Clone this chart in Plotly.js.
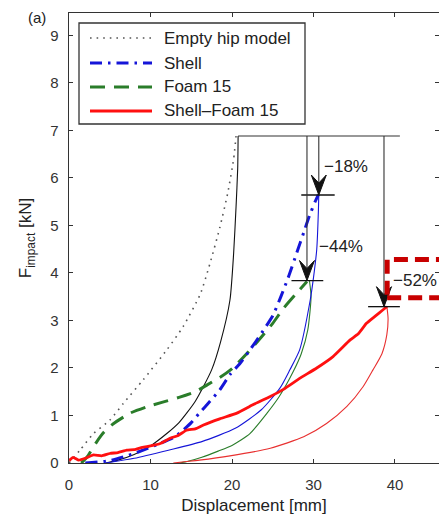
<!DOCTYPE html>
<html>
<head>
<meta charset="utf-8">
<script src="https://cdn.plot.ly/plotly-3.0.1.min.js"></script>
<style>html,body{margin:0;padding:0;overflow:hidden;background:#fff}</style>
</head>
<body>
<div id="chart" style="width:439px;height:516px"></div>
<script>
// ---- Data ----
const seriesNames = ["Empty hip model", "Shell", "Foam 15", "Shell\u2013Foam 15"];

// Empty hip model: loading (dotted) and unloading (thin solid)
const emptyLoadX = [0, 1.35, 3, 5, 6.7, 9.1, 12, 14, 16.1, 17.3, 18.5, 19.5, 20.2, 20.5];
const emptyLoadY = [0, 0.27, 0.62, 0.9, 1.26, 1.75, 2.38, 2.87, 3.55, 4.2, 4.95, 5.7, 6.4, 6.88];
const emptyUnloadX = [20.75, 20.7, 20.5, 20.2, 19.75, 18.6, 17.5, 15.5, 13.5, 12, 10, 8, 6, 4.5];
const emptyUnloadY = [6.88, 6.2, 5.4, 4.41, 3.43, 2.55, 1.96, 1.3, 0.85, 0.62, 0.36, 0.18, 0.06, 0];

// Shell: loading (dash-dot) and unloading (thin solid)
const shellLoadX = [2, 5, 8, 11, 13, 14, 15, 16, 16.9, 18.5, 19.75, 21, 22.2, 23.5, 25, 26, 27, 28, 28.8, 29.5, 30.2, 30.6];
const shellLoadY = [0, 0.05, 0.2, 0.4, 0.55, 0.69, 0.85, 1.05, 1.22, 1.54, 1.86, 2.1, 2.38, 2.7, 3.1, 3.5, 3.95, 4.45, 4.85, 5.2, 5.5, 5.65];
const shellUnloadX = [30.65, 30.6, 30.4, 30.0, 29.6, 28.3, 27.1, 25.9, 23.6, 20.4, 16.3, 12.2, 8, 4.5];
const shellUnloadY = [5.65, 5.3, 4.5, 3.9, 3.43, 2.38, 1.96, 1.58, 1.12, 0.73, 0.45, 0.27, 0.1, 0];

// Foam 15: loading (dashed) and unloading (thin solid)
const foamLoadX = [1.5, 2.2, 3.3, 4.3, 5.4, 7.5, 9.5, 11.5, 13.5, 15.5, 17, 18.5, 20.1, 22.6, 25, 26.3, 27.8, 29.2];
const foamLoadY = [0, 0.12, 0.42, 0.65, 0.82, 1.05, 1.18, 1.28, 1.38, 1.5, 1.65, 1.8, 2.0, 2.45, 2.94, 3.25, 3.55, 3.82];
const foamUnloadX = [29.5, 29.7, 29.3, 28.5, 27.5, 25.8, 24.3, 22.2, 20, 18.3, 16.3, 14.5, 13.5];
const foamUnloadY = [3.84, 3.5, 2.8, 2.3, 1.92, 1.4, 1.05, 0.62, 0.37, 0.25, 0.12, 0.03, 0];

// Shell-Foam 15: loading (thick solid) and unloading (thin solid)
const sfLoadX = [0, 0.5, 1.2, 2, 3, 4, 5, 6, 7.1, 8, 9, 10, 11.2, 12.4, 13.4, 14.4, 15.5, 16.5, 18.5, 20.6, 22.5, 24.7, 26.3, 28.3, 30.4, 32.4, 34.5, 35.5, 36.5, 37.5, 38.5, 39];
const sfLoadY = [0.05, 0.12, 0.06, 0.1, 0.17, 0.15, 0.2, 0.22, 0.27, 0.28, 0.33, 0.36, 0.41, 0.52, 0.58, 0.69, 0.72, 0.8, 0.93, 1.05, 1.22, 1.4, 1.55, 1.78, 2.0, 2.24, 2.59, 2.72, 2.94, 3.08, 3.22, 3.29];
const sfUnloadX = [39, 39.15, 39.0, 38.4, 37.3, 36.1, 34.1, 31.6, 28.8, 24.7, 19.75, 16, 14.4, 12.8];
const sfUnloadY = [3.29, 3.05, 2.7, 2.3, 1.96, 1.61, 1.19, 0.83, 0.55, 0.31, 0.15, 0.06, 0.03, 0];

// Peak-reduction annotations
const refForce = 6.88;                 // reference (empty hip) force level
const refLineX = [20.75, 40.6];        // horizontal reference line extent
const arrowX = [30.65, 29.2, 38.65];
const arrowTipY = [5.64, 3.84, 3.29];
const barX0 = [28.5, 27.3, 36.7];
const barX1 = [32.6, 31.2, 40.6];
const pctLabels = ["\u221218%", "\u221244%", "\u221252%"];
const pctLabelX = [31.1, 30.45, 39.5];
const pctLabelY = [6.23, 4.55, 3.85];
const highlightBox = {x0: 39.04, x1: 47, y0: 3.48, y1: 4.28};

const xTicks = [0, 10, 20, 30, 40];
const yTicks = [0, 1, 2, 3, 4, 5, 6, 7, 8, 9];

// ---- Layout geometry ----
const W = 439, H = 516;
const M = {l: 69, r: 0, t: 13, b: 53};
const xRange = [0, 45.4], yRange = [0, 9.47];
const plotW = W - M.l - M.r, plotH = H - M.t - M.b;
const pxX = plotW / (xRange[1] - xRange[0]);
const pxY = plotH / (yRange[1] - yRange[0]);
const px2pX = px => (px - M.l) / plotW;          // page px -> paper x
const px2pY = py => (H - M.b - py) / plotH;       // page px -> paper y

const FONT = "Liberation Sans, Arial, Helvetica, sans-serif";
const COL = {empty: "#555555", shell: "#1515d8", foam: "#2a7d2a", sf: "#ff1010", black: "#111111"};
const STY = {
  empty: {color: COL.empty, width: 1.6, dash: "1.6px,5px", shape: "spline", smoothing: 0.6},
  shell: {color: COL.shell, width: 3, dash: "12px,6px,2.5px,6px", shape: "spline", smoothing: 0.5},
  foam: {color: COL.foam, width: 3, dash: "15px,9px", shape: "spline", smoothing: 0.6},
  sf: {color: COL.sf, width: 2.8, shape: "spline", smoothing: 0.4}
};
const thin = c => ({color: c, width: 1.1, shape: "spline", smoothing: 0.6});

const traces = [
  {x: emptyLoadX, y: emptyLoadY, name: seriesNames[0], mode: "lines", line: STY.empty, showlegend: false},
  {x: emptyUnloadX, y: emptyUnloadY, name: seriesNames[0] + " (unloading)", mode: "lines", line: thin(COL.black), showlegend: false},
  {x: foamUnloadX, y: foamUnloadY, name: seriesNames[2] + " (unloading)", mode: "lines", line: thin(COL.foam), showlegend: false},
  {x: shellUnloadX, y: shellUnloadY, name: seriesNames[1] + " (unloading)", mode: "lines", line: thin(COL.shell), showlegend: false},
  {x: sfUnloadX, y: sfUnloadY, name: seriesNames[3] + " (unloading)", mode: "lines", line: thin("#e83030"), showlegend: false},
  {x: foamLoadX, y: foamLoadY, name: seriesNames[2], mode: "lines", line: STY.foam, showlegend: false},
  {x: shellLoadX, y: shellLoadY, name: seriesNames[1], mode: "lines", line: STY.shell, showlegend: false},
  {x: sfLoadX, y: sfLoadY, name: seriesNames[3], mode: "lines", line: STY.sf, showlegend: false}
];

const shapes = [];
const annotations = [];

// reference line and arrows
shapes.push({type: "line", xref: "x", yref: "y", x0: refLineX[0], x1: refLineX[1], y0: refForce, y1: refForce, line: {color: "#333", width: 1.1}});
const ahW = 7.5 / pxX, ahH = 20 / pxY, ahN = 12 / pxY;
arrowX.forEach((ax, i) => {
  const tip = arrowTipY[i];
  shapes.push({type: "line", xref: "x", yref: "y", x0: ax, x1: ax, y0: refForce, y1: tip + ahN, line: {color: "#333", width: 1.1}});
  shapes.push({type: "line", xref: "x", yref: "y", x0: barX0[i], x1: barX1[i], y0: tip, y1: tip, line: {color: "#111", width: 1.3}});
  shapes.push({type: "path", xref: "x", yref: "y",
    path: `M${ax},${tip} L${ax - ahW},${tip + ahH} L${ax},${tip + ahN} L${ax + ahW},${tip + ahH} Z`,
    fillcolor: "#111", line: {color: "#111", width: 1}});
  annotations.push({xref: "x", yref: "y", x: pctLabelX[i], y: pctLabelY[i], text: pctLabels[i], showarrow: false,
    xanchor: "left", yanchor: "middle", font: {family: FONT, size: 17, color: "#222"}});
});
// red dashed highlight box
shapes.push({type: "rect", xref: "x", yref: "y", x0: highlightBox.x0, x1: highlightBox.x1, y0: highlightBox.y0, y1: highlightBox.y1,
  line: {color: "#c80000", width: 5, dash: "14px,7px"}, fillcolor: "rgba(0,0,0,0)", layer: "above"});

// ---- legend (drawn to match the reference box) ----
const legBox = {x0: 79, y0: 23, x1: 305, y1: 124};
const legRowY = [38, 63, 87, 111];
const legStyles = [STY.empty, STY.shell, STY.foam, STY.sf];
shapes.push({type: "rect", xref: "paper", yref: "paper", x0: px2pX(legBox.x0), x1: px2pX(legBox.x1), y0: px2pY(legBox.y1), y1: px2pY(legBox.y0),
  line: {color: "#333", width: 1.3}, fillcolor: "#ffffff", layer: "above"});
seriesNames.forEach((nm, i) => {
  const st = legStyles[i];
  shapes.push({type: "line", xref: "paper", yref: "paper", x0: px2pX(90), x1: px2pX(152), y0: px2pY(legRowY[i]), y1: px2pY(legRowY[i]),
    line: {color: st.color, width: st.width, dash: st.dash || "solid"}, layer: "above"});
  annotations.push({xref: "paper", yref: "paper", x: px2pX(162), y: px2pY(legRowY[i]), text: nm, showarrow: false,
    xanchor: "left", yanchor: "middle", font: {family: FONT, size: 17, color: "#222"}});
});

// panel label
annotations.push({xref: "paper", yref: "paper", x: px2pX(37), y: px2pY(18), text: "(a)", showarrow: false,
  xanchor: "center", yanchor: "middle", font: {family: FONT, size: 15, color: "#222"}});

const axisCommon = {
  showgrid: false, zeroline: false, showline: true, linecolor: "#333", linewidth: 1.4, mirror: "ticks",
  ticks: "inside", ticklen: 4, tickcolor: "#333", tickwidth: 1,
  tickfont: {family: FONT, size: 15, color: "#333"}, tickmode: "array"
};

const layout = {
  width: W, height: H, margin: M, paper_bgcolor: "#fff", plot_bgcolor: "#fff",
  showlegend: false,
  xaxis: Object.assign({}, axisCommon, {range: xRange, tickvals: xTicks, ticktext: xTicks.map(String), ticklabelstandoff: 8,
    title: {text: "Displacement [mm]", font: {family: FONT, size: 17, color: "#222"}, standoff: 6}}),
  yaxis: Object.assign({}, axisCommon, {range: yRange, tickvals: yTicks, ticktext: yTicks.map(String), ticklabelstandoff: 6,
    title: {text: "F<sub>impact</sub> [kN]", font: {family: FONT, size: 17, color: "#222"}, standoff: 14}}),
  shapes: shapes, annotations: annotations
};

Plotly.newPlot("chart", traces, layout, {staticPlot: true, displayModeBar: false});
</script>
</body>
</html>
